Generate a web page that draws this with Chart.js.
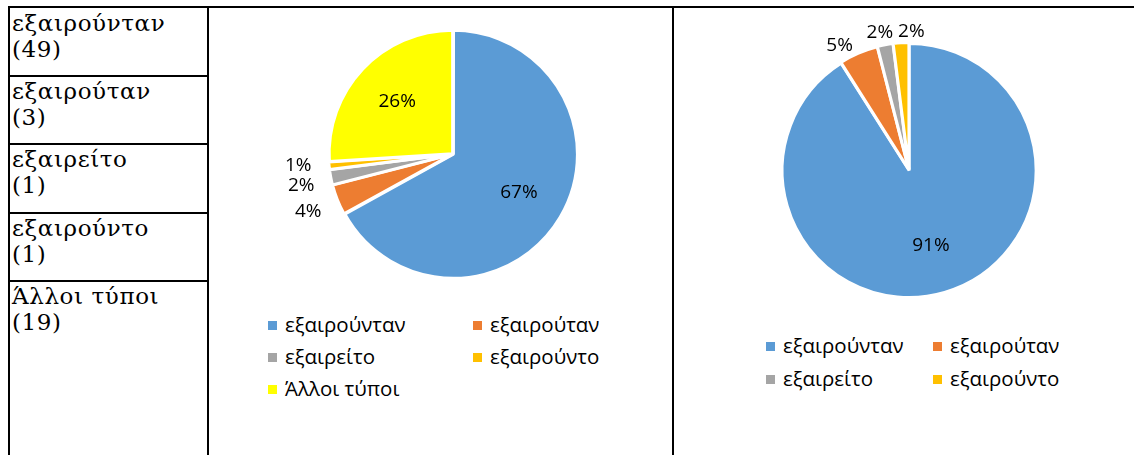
<!DOCTYPE html>
<html>
<head>
<meta charset="utf-8">
<script src="https://cdn.jsdelivr.net/npm/chart.js@4"></script>
<style>
  body { margin: 0; background: #fff; width: 1134px; height: 455px; overflow: hidden; position: relative; }
  .ln { position: absolute; background: #000; }
  .cell { position: absolute; left: 12px; font-family: "DejaVu Serif", serif; font-size: 23px; line-height: 26px; color: #000; letter-spacing: 0.6px; }
  .box { position: absolute; }
  .leg { position: absolute; font-family: "Open Sans", sans-serif; font-size: 20.5px; color: #000; white-space: nowrap; }
  .leg span.m { display: inline-block; width: 9px; height: 9px; margin-right: 8px; vertical-align: 2px; }
</style>
</head>
<body>
<div id="lines"></div>
<div id="cells"></div>
<div class="box" style="left:273px; top:4px; width:360px; height:300px;"><canvas id="pie1"></canvas></div>
<div class="box" style="left:729px; top:10px; width:360px; height:320px;"><canvas id="pie2"></canvas></div>
<div id="legends"></div>
<script>
// categories and values
var labels1 = ["εξαιρούνταν", "εξαιρούταν", "εξαιρείτο", "εξαιρούντο", "Άλλοι τύποι"];
var counts1 = [49, 3, 1, 1, 19];
var pct1 = [67, 4, 2, 1, 26];
var labels2 = ["εξαιρούνταν", "εξαιρούταν", "εξαιρείτο", "εξαιρούντο"];
var pct2 = [91, 5, 2, 2];
var colors = ["#5b9bd5", "#ed7d31", "#a5a5a5", "#ffc000", "#ffff00"];

// table lines
var lines = document.getElementById("lines");
function line(x, y, w, h) {
    var d = document.createElement("div");
    d.className = "ln";
    d.style.left = x + "px"; d.style.top = y + "px";
    d.style.width = w + "px"; d.style.height = h + "px";
    lines.appendChild(d);
}
line(8, 6, 1126, 2);
line(8, 6, 2, 449);
line(207, 6, 2, 449);
line(672, 6, 2, 449);
[75, 143, 212, 280].forEach(function (y) { line(8, y, 200, 2); });

// left column
var cells = document.getElementById("cells");
var tops = [10, 78, 146, 215, 283];
labels1.forEach(function (l, i) {
    var d = document.createElement("div");
    d.className = "cell";
    d.style.top = tops[i] + "px";
    d.innerHTML = l + "<br>(" + counts1[i] + ")";
    cells.appendChild(d);
});

// legends
var legends = document.getElementById("legends");
function legend(items, pos) {
    items.forEach(function (l, i) {
        var d = document.createElement("div");
        d.className = "leg";
        d.style.left = pos[i][0] + "px";
        d.style.top = pos[i][1] + "px";
        d.innerHTML = '<span class="m" style="background:' + colors[i] + '"></span>' + l;
        legends.appendChild(d);
    });
}
legend(labels1, [[268, 310], [473, 310], [268, 342], [473, 342], [268, 374]]);
legend(labels2, [[766, 331], [933, 331], [766, 364], [933, 364]]);

// percentage labels
var pctLabels = {
    id: "pctLabels",
    afterDatasetsDraw: function (chart, args, opts) {
        var ctx = chart.ctx;
        var meta = chart.getDatasetMeta(0);
        ctx.save();
        ctx.font = "19px 'Open Sans', sans-serif";
        ctx.fillStyle = "#000";
        ctx.textAlign = "center";
        ctx.textBaseline = "middle";
        meta.data.forEach(function (arc, i) {
            var v = chart.data.datasets[0].data[i];
            var mid = (arc.startAngle + arc.endAngle) / 2;
            var r = v >= 10 ? arc.outerRadius * 0.62 : arc.outerRadius + (opts.out[i] || 20);
            var dx = (opts.dx && opts.dx[i]) || 0;
            var dy = (opts.dy && opts.dy[i]) || 0;
            ctx.fillText(v + "%", arc.x + Math.cos(mid) * r + dx, arc.y + Math.sin(mid) * r + dy);
        });
        ctx.restore();
    }
};

function pie(id, data, n, pad, lab) {
    new Chart(document.getElementById(id), {
        type: "pie",
        data: {
            labels: n,
            datasets: [{
                data: data,
                backgroundColor: colors.slice(0, data.length),
                borderColor: "#fff",
                borderWidth: 3,
                offset: 2
            }]
        },
        options: {
            responsive: true,
            maintainAspectRatio: false,
            animation: false,
            layout: { padding: pad },
            plugins: {
                legend: { display: false },
                tooltip: { enabled: false },
                pctLabels: lab
            }
        },
        plugins: [pctLabels]
    });
}

pie("pie1", pct1, labels1, { top: 24, bottom: 24, left: 54, right: 54 },
    { out: [0, 30, 30, 32], dx: [0, -2, -1, 0], dy: [0, 1, 3, -3] });
pie("pie2", pct2, labels2, { top: 31, bottom: 31, left: 51, right: 51 },
    { out: [0, 18, 13, 12], dx: [0, -12, -3, 11], dy: [0, 8, 0, 0] });
</script>
</body>
</html>
